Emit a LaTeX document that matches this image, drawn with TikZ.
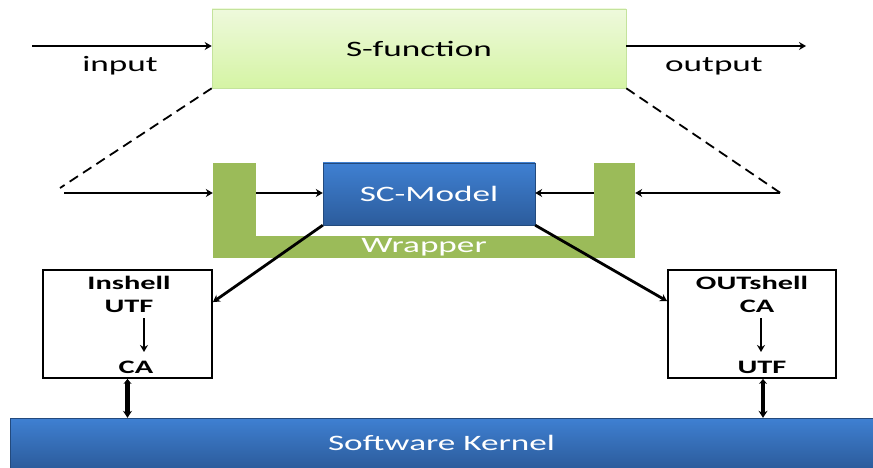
\documentclass[tikz,border=0pt]{standalone}
\usepackage{fontspec}
\setmainfont[FakeStretch=1.6]{Carlito}
\usetikzlibrary{arrows.meta}
\definecolor{wrapgreen}{HTML}{9BBB59}
\definecolor{sfTop}{HTML}{EEF9DC}
\definecolor{sfBot}{HTML}{D5F4A4}
\definecolor{sfLine}{HTML}{C4E39C}
\definecolor{bTop}{HTML}{3F80D2}
\definecolor{bBot}{HTML}{2C5C9C}
\tikzset{
  lbl/.style={font=\fontsize{22}{24}\selectfont},
  boxtxt/.style={font=\fontsize{19}{21}\selectfont\bfseries, inner sep=0pt},
  arr/.style={line width=2.8pt, -{Stealth[length=7pt,width=8pt]}},
  thinarr/.style={line width=2.2pt, -{Stealth[length=7pt,width=8pt]}},
  bigarr/.style={line width=4.5pt, {Stealth[length=5pt,width=8pt]}-{Stealth[length=7pt,width=9pt]}},
  dashline/.style={line width=1.8pt, dash pattern=on 10pt off 6pt},
  wrap/.style={fill=wrapgreen, draw=none, inner sep=0pt},
  bluebox/.style={draw=bBot!80!black, line width=0.4pt, top color=bTop, bottom color=bBot, text=white, inner sep=0pt},
  shell/.style={draw=black, line width=1.8pt, fill=white, inner sep=0pt},
}
\begin{document}
\begin{tikzpicture}[x=1pt,y=-1pt]
\useasboundingbox (0,0) rectangle (873,468);
% S-function
\node[draw=sfLine, line width=0.6pt, top color=sfTop, bottom color=sfBot, minimum width=414pt, minimum height=79pt, inner sep=0pt, lbl] (sfun) at (419,48.5) {S-function};
\coordinate (inL) at (32,46);
\coordinate (outR) at (806,46);
\draw[arr] (inL) -- (inL -| sfun.west);
\draw[arr] (outR -| sfun.east) -- (outR);
\node[lbl] (inlbl) at (120,66) {input};
\node[lbl] (outlbl) at (714,66) {output};
% dashed
\coordinate (dl) at (60,188);
\coordinate (dr) at (782,194);
\draw[dashline] (sfun.south west) -- (dl);
\draw[dashline] (sfun.south east) -- (dr);
% wrapper
\node[wrap, minimum width=43pt, minimum height=95pt] (wl) at (234.5,210.5) {};
\node[wrap, minimum width=41pt, minimum height=95pt] (wr) at (614.5,210.5) {};
\node[wrap, minimum width=422pt, minimum height=22pt, text=white, lbl] (wb) at (424,247) {\raisebox{-2pt}{Wrapper}};
% SC-Model
\node[bluebox, minimum width=212pt, minimum height=62pt, lbl] (sc) at (429,194) {SC-Model};
% row arrows
\coordinate (la) at (64,193);
\coordinate (ra) at (780,193);
\draw[arr] (la) -- (la -| wl.west);
\draw[arr] (la -| wl.east) -- (la -| sc.west);
\draw[arr] (ra -| wr.west) -- (ra -| sc.east);
\draw[arr] (ra) -- (ra -| wr.east);
% shells
\node[shell, minimum width=169pt, minimum height=108pt] (ins) at (127.5,324) {};
\node[shell, minimum width=168pt, minimum height=108pt] (outs) at (752,324) {};
\node[boxtxt] (insT) at (129,283) {Inshell};
\node[boxtxt] (insU) at (129,306) {UTF};
\node[boxtxt] (insC) at (136,367) {CA};
\draw[thinarr] (144,318) -- (144,352);
\node[boxtxt] (outT) at (752,283) {OUTshell};
\node[boxtxt] (outC) at (757,306) {CA};
\node[boxtxt] (outU) at (762,367) {UTF};
\draw[thinarr] (761,318) -- (761,352);
% diagonal arrows
\draw[arr] (sc.south west) -- ([yshift=-33pt]ins.north east);
\draw[arr] (sc.south east) -- ([yshift=-32pt]outs.north west);
% kernel
\node[bluebox, minimum width=863pt, minimum height=50pt, lbl] (ker) at (441.5,443) {Software Kernel};
\draw[bigarr] (ins.south) -- (ins.south |- ker.north);
\draw[bigarr] ([xshift=11pt]outs.south) -- ([xshift=11pt]outs.south |- ker.north);
\end{tikzpicture}
\end{document}
